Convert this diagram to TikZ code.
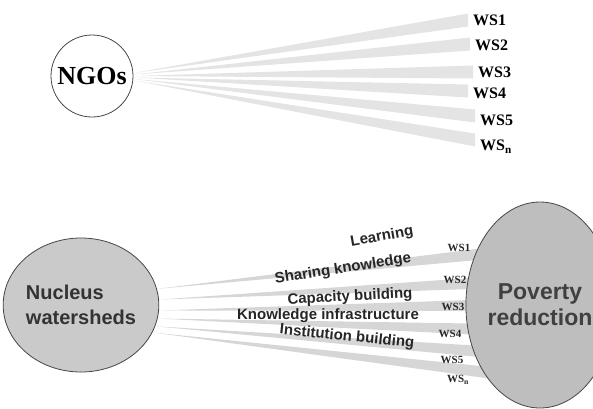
\documentclass[tikz,border=0pt]{standalone}
\usepackage{fontspec}
\setmainfont{Liberation Serif}
\setsansfont{Liberation Sans}
\usetikzlibrary{calc,shapes.geometric}
\definecolor{wedgetop}{RGB}{228,228,228}
\definecolor{wedgebot}{RGB}{214,214,214}
\definecolor{bubblefill}{RGB}{202,202,202}
\definecolor{goalfill}{RGB}{190,190,190}
\definecolor{rimgray}{RGB}{70,70,70}
\begin{document}
\begin{tikzpicture}[x=1pt,y=-1pt,
    wstop/.style={anchor=west,inner sep=0pt,text height=11pt,text depth=0pt,
                  font=\fontsize{16}{16}\selectfont\bfseries},
    wsbot/.style={inner sep=0pt,text=black!85,font=\fontsize{11}{11}\selectfont\bfseries},
    flow/.style={inner sep=0pt,text=black!85,font=\sffamily\bfseries\fontsize{15}{15}\selectfont}]
    \useasboundingbox (0,0) rectangle (593,408);
    \clip (0,0) rectangle (593,408);

    % NGOs and the watersheds they reach
    \node[circle,draw=rimgray,line width=0.8pt,minimum size=82pt,inner sep=0pt,
          font=\fontsize{26}{26}\selectfont\bfseries] (ngo) at (92,76) {NGOs};
    \foreach \i/\t/\x/\y/\dy/\a in {1/WS1/473/20/0/4, 2/WS2/475/45/-1/2, 3/WS3/478/72/0/0,
                                    4/WS4/473/93/-2/-2, 5/WS5/480/120/-4/-4,
                                    6/{WS\textsubscript{n}}/480/145/-5/-6}
    {
        \node[wstop] (ws\i) at (\x,\y) {\t};
        \fill[wedgetop] (ngo.\a) -- ($(ws\i.west)+(-5,\dy-6.5)$) -- ($(ws\i.west)+(-5,\dy+6.5)$) -- cycle;
    }

    % nucleus watersheds
    \node[ellipse,draw=rimgray,fill=bubblefill,line width=0.8pt,minimum width=144pt,
          minimum height=134pt,inner sep=0pt,align=left,text=black!80,
          font=\sffamily\bfseries\fontsize{20}{25}\selectfont] (nucleus) at (81,305) {Nucleus\\watersheds};

    % wedges, their ends go under the ellipse
    \foreach \i/\a/\y in {1/12/252, 2/4/282, 3/-4/305, 4/-10/330, 5/-16/353, 6/-21/374}
    {
        \coordinate (end\i) at (500,\y);
        \fill[wedgebot] (nucleus.\a) -- ($(end\i)+(0,-6)$) -- ($(end\i)+(0,6)$) -- cycle;
    }

    % poverty reduction
    \node[ellipse,draw=rimgray,fill=goalfill,line width=0.8pt,minimum width=136pt,
          minimum height=206pt,inner sep=0pt,align=center,text=black!75,
          font=\sffamily\bfseries\fontsize{23}{26}\selectfont] (goal) at (540,305) {Poverty\\reduction};

    % labels of the wedges
    \foreach \i/\t/\x/\y in {1/WS1/459/248, 2/WS2/455/280, 3/WS3/453/307, 4/WS4/450/334,
                             5/WS5/452/360, 6/{WS\textsubscript{n}}/458/380}
        \node[wsbot] (wb\i) at (\x,\y) {\t};

    \node[flow,rotate=10] (learn) at (382,237) {Learning};
    \node[flow,rotate=9] (share) at (343,269) {Sharing knowledge};
    \node[flow,rotate=3] (capac) at (350,297) {Capacity building};
    \node[flow] (infra) at (328,316) {Knowledge infrastructure};
    \node[flow,rotate=-6] (instit) at (347,337) {Institution building};
\end{tikzpicture}
\end{document}
